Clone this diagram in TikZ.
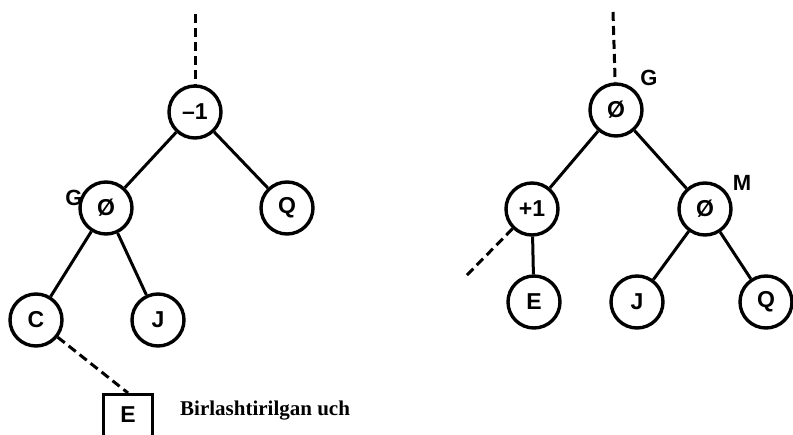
\documentclass[tikz,border=0pt]{standalone}
\usepackage{fontspec}
\setmainfont{Liberation Serif}
\newfontfamily\lsans{Liberation Sans}
\begin{document}
\begin{tikzpicture}[x=1pt,y=-1pt,
  vert/.style={circle,draw,line width=3.4pt,minimum size=52pt,inner sep=0pt,font=\lsans\bfseries\fontsize{23}{23}\selectfont},
  edge/.style={line width=3pt},
  dedge/.style={line width=3pt,dash pattern=on 9pt off 5pt},
  lbl/.style={font=\lsans\bfseries\fontsize{22}{22}\selectfont,inner sep=0pt}]
\clip (0,0) rectangle (793,435);
\fill[white] (0,0) rectangle (793,435);
% left tree
\node[vert] (a) at (195,112) {–1};
\node[vert] (b) at (106,208) {Ø};
\node[vert] (q1) at (287,208) {Q};
\node[vert] (c) at (36,320) {C};
\node[vert] (j1) at (158,320) {J};
\node[lbl] (gl) at (74,198) {G};
\coordinate (atop) at (195,14);
\draw[dedge] (atop) -- (a);
\draw[edge] (a) -- (b);
\draw[edge] (a) -- (q1);
\draw[edge] (b) -- (c);
\draw[edge] (b) -- (j1);
\node[draw,line width=3.4pt,minimum width=49pt,minimum height=60pt,anchor=north,inner sep=0pt] (ebox) at (128,393) {};
\node[font=\lsans\bfseries\fontsize{23}{23}\selectfont] (etxt) at (128,415) {E};
\draw[dedge] (c) -- (ebox.north);
\node[font=\bfseries\fontsize{21}{21}\selectfont,anchor=west,inner sep=0pt] (cap) at (180,411) {Birlashtirilgan uch};
% right tree
\node[vert] (r) at (616,110) {Ø};
\node[vert] (p1) at (532,209) {+1};
\node[vert] (m) at (705,209) {Ø};
\node[vert] (e2) at (534,302) {E};
\node[vert] (j2) at (637,302) {J};
\node[vert] (q2) at (766,302) {Q};
\node[lbl] (gr) at (649,78) {G};
\node[lbl] (ml) at (742,183) {M};
\coordinate (rtop) at (613,12);
\coordinate (pl) at (465,277);
\draw[dedge] (rtop) -- (r);
\draw[edge] (r) -- (p1);
\draw[edge] (r) -- (m);
\draw[edge] (p1) -- (e2);
\draw[dedge] (p1) -- (pl);
\draw[edge] (m) -- (j2);
\draw[edge] (m) -- (q2);
\end{tikzpicture}
\end{document}
